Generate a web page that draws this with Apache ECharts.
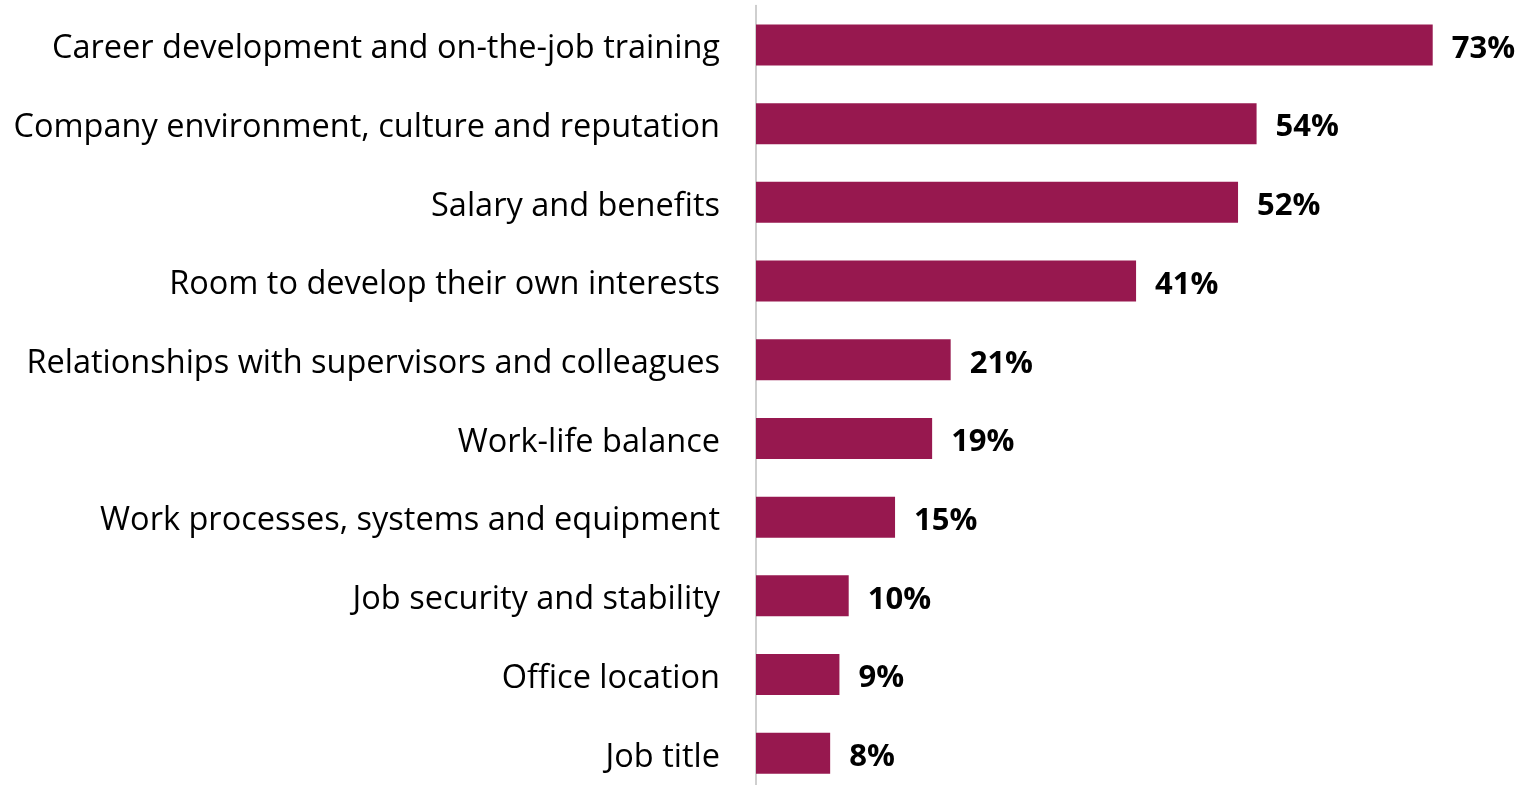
<!DOCTYPE html>
<html>
<head>
<meta charset="utf-8">
<style>
  html, body { margin: 0; padding: 0; background: #ffffff; overflow: hidden; }
  #chart { width: 1524px; height: 800px; }
</style>
<script src="https://cdn.jsdelivr.net/npm/echarts@6/dist/echarts.min.js"></script>
</head>
<body>
<div id="chart"></div>
<script>
// Reasons cited, top to bottom
const categories = [
  'Career development and on-the-job training',
  'Company environment, culture and reputation',
  'Salary and benefits',
  'Room to develop their own interests',
  'Relationships with supervisors and colleagues',
  'Work-life balance',
  'Work processes, systems and equipment',
  'Job security and stability',
  'Office location',
  'Job title'
];
// Share of respondents (%)
const values = [73, 54, 52, 41, 21, 19, 15, 10, 9, 8];

const FONT = '"Open Sans", sans-serif';
const chart = echarts.init(document.getElementById('chart'), null, { renderer: 'canvas' });

chart.setOption({
  animation: false,
  backgroundColor: '#ffffff',
  grid: { left: 756, top: 5.6, width: 741.6, height: 787, containLabel: false },
  xAxis: {
    type: 'value',
    min: 0,
    max: 80,
    show: false
  },
  yAxis: {
    type: 'category',
    inverse: true,
    data: categories,
    axisLine: { show: true, lineStyle: { color: '#BFBFBF', width: 1.5 } },
    axisTick: { show: false },
    axisLabel: {
      margin: 36,
      fontFamily: FONT,
      fontSize: 32.5,
      color: '#000000',
      // sit the text a little below the bar centre line
      verticalAlign: 'top',
      lineHeight: 8
    }
  },
  series: [{
    type: 'bar',
    data: values,
    barWidth: 41,
    itemStyle: { color: '#97184F' },
    label: {
      show: true,
      position: 'right',
      distance: 19,
      formatter: '{c}%',
      fontFamily: FONT,
      fontWeight: 'bold',
      fontSize: 31,
      color: '#000000',
      verticalAlign: 'top',
      lineHeight: 8
    }
  }]
});
</script>
</body>
</html>
